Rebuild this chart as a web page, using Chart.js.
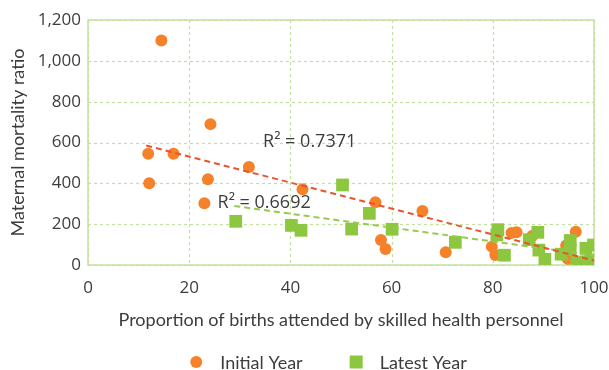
<!DOCTYPE html>
<html><head><meta charset="utf-8">
<script src="https://cdn.jsdelivr.net/npm/chart.js@4.4.1/dist/chart.umd.min.js"></script>
<style>html,body{margin:0;padding:0;background:#fff;}#wrap{width:609px;height:370px;}</style>
</head><body><div id="wrap"><canvas id="c" width="609" height="370"></canvas></div>
<script>
// ---- data ----
const seriesNames = ['Initial Year', 'Latest Year'];
const initialX = [14.5, 11.9, 16.9, 12.1, 24.2, 23.7, 23.0, 31.8, 42.4, 56.8, 57.9, 58.8, 66.1, 70.7, 79.8, 80.5, 83.7, 84.7, 87.8, 96.4, 94.5, 94.8];
const initialY = [1100, 545, 545, 400, 690, 420, 302, 480, 371, 307, 122, 78, 264, 62, 90, 49, 157, 160, 142, 163, 95, 30];
const latestX = [29.2, 40.2, 42.1, 50.3, 52.1, 55.6, 60.1, 72.6, 81.0, 80.8, 82.3, 87.2, 88.9, 89.1, 90.3, 93.5, 95.3, 95.3, 96.6, 98.4, 98.4, 99.4, 99.9];
const latestY = [214, 194, 170, 392, 176, 253, 175, 111, 173, 147, 48, 124, 160, 73, 28, 53, 120, 76, 12, 82, 16, 24, 98];
const trendInitialX = [11.5, 100];
const trendInitialY = [585, 22];
const trendLatestX = [28.9, 100];
const trendLatestY = [289, 47];
const r2Texts = ['R\u00B2 = 0.7371', 'R\u00B2 = 0.6692'];
const xTickValues = [0, 20, 40, 60, 80, 100];
const yTickValues = [0, 200, 400, 600, 800, 1000, 1200];
const xTitle = 'Proportion of births attended by skilled health personnel';
const yTitle = 'Maternal mortality ratio';

// ---- styling / layout ----
const ORANGE = '#F5822A';
const GREEN = '#8DC63F';
const RED = '#E9552C';
const GRID = '#C4DFA3';
const TEXT = '#3d3d3d';
const r2Anchors = [{x: 34.6, y: 576}, {x: 25.6, y: 278}]; // label anchors in data space

const pts = (xs, ys) => xs.map((x, i) => ({x, y: ys[i]}));

Chart.defaults.font.family = 'Lato, "Open Sans", sans-serif';
Chart.defaults.color = TEXT;

const framePlugin = {
  id: 'frame',
  beforeDatasetsDraw(chart) {
    const {ctx, chartArea: a, scales} = chart;
    ctx.save();
    ctx.strokeStyle = GRID;
    ctx.lineWidth = 1.2;
    ctx.setLineDash([3, 3]);
    scales.x.ticks.forEach(t => {
      const px = Math.round(scales.x.getPixelForValue(t.value)) + 0.5;
      ctx.beginPath(); ctx.moveTo(px, a.top); ctx.lineTo(px, a.bottom); ctx.stroke();
    });
    scales.y.ticks.forEach(t => {
      const py = Math.round(scales.y.getPixelForValue(t.value)) + 0.5;
      ctx.beginPath(); ctx.moveTo(a.left, py); ctx.lineTo(a.right, py); ctx.stroke();
    });
    ctx.setLineDash([]);
    ctx.strokeStyle = '#C6E0A2';
    ctx.lineWidth = 1.5;
    ctx.strokeRect(a.left, a.top, a.right - a.left, a.bottom - a.top);
    ctx.restore();
  },
  afterDatasetsDraw(chart) {
    const {ctx, scales} = chart;
    ctx.save();
    ctx.font = '18px "Open Sans"';
    ctx.fillStyle = TEXT;
    ctx.textBaseline = 'alphabetic';
    ctx.textAlign = 'left';
    r2Texts.forEach((t, i) => {
      ctx.fillText(t, scales.x.getPixelForValue(r2Anchors[i].x), scales.y.getPixelForValue(r2Anchors[i].y));
    });
    ctx.restore();
  },
  afterDraw(chart) {
    const {ctx, chartArea: a} = chart;
    ctx.save();
    ctx.font = '18px Lato';
    ctx.fillStyle = TEXT;
    ctx.textBaseline = 'middle';
    const w1 = ctx.measureText(seriesNames[0]).width;
    const w2 = ctx.measureText(seriesNames[1]).width;
    const total = 12 + 18 + w1 + 47 + 13 + 17 + w2;
    const cx = (a.left + a.right) / 2 - 12.5;
    let x = cx - total / 2;
    const y = 362;
    ctx.fillStyle = ORANGE;
    ctx.beginPath(); ctx.arc(x + 6, y, 6, 0, Math.PI * 2); ctx.fill();
    x += 12 + 18;
    ctx.fillStyle = TEXT;
    ctx.fillText(seriesNames[0], x, y + 1);
    x += w1 + 47;
    ctx.fillStyle = GREEN;
    ctx.fillRect(x, y - 6.5, 13, 13);
    x += 13 + 17;
    ctx.fillStyle = TEXT;
    ctx.fillText(seriesNames[1], x, y + 1);
    ctx.restore();
  }
};

new Chart(document.getElementById('c'), {
  type: 'scatter',
  data: {
    datasets: [
      {label: 'trend ' + seriesNames[0], data: pts(trendInitialX, trendInitialY), showLine: true, pointRadius: 0,
       borderColor: RED, borderWidth: 2, borderDash: [6, 4], order: 0},
      {label: 'trend ' + seriesNames[1], data: pts(trendLatestX, trendLatestY), showLine: true, pointRadius: 0,
       borderColor: '#95CB4E', borderWidth: 2, borderDash: [6, 4], order: 1},
      {label: seriesNames[1], data: pts(latestX, latestY), pointStyle: 'rect', pointRadius: 9, pointHoverRadius: 9,
       backgroundColor: GREEN, borderColor: GREEN, borderWidth: 0, order: 2},
      {label: seriesNames[0], data: pts(initialX, initialY), pointStyle: 'circle', pointRadius: 6, pointHoverRadius: 6,
       backgroundColor: ORANGE, borderColor: ORANGE, borderWidth: 0, order: 3}
    ]
  },
  options: {
    responsive: false,
    devicePixelRatio: 1,
    animation: false,
    events: [],
    layout: {padding: {top: 20, bottom: 39, left: 0, right: 0}},
    plugins: {legend: {display: false}, tooltip: {enabled: false}},
    scales: {
      x: {
        type: 'linear', min: 0, max: 100,
        afterBuildTicks: s => { s.ticks = xTickValues.map(v => ({value: v})); },
        afterFit: s => { s.height = 66; s.paddingRight = 15; s.paddingLeft = 0; },
        grid: {display: false, drawTicks: false},
        border: {display: false},
        ticks: {padding: 13, color: TEXT, font: {family: '"Open Sans"', size: 17}},
        title: {display: true, text: xTitle, color: TEXT, font: {family: 'Lato', size: 18}, padding: {top: 0, bottom: 0}}
      },
      y: {
        type: 'linear', min: 0, max: 1200,
        afterBuildTicks: s => { s.ticks = yTickValues.map(v => ({value: v})); },
        afterFit: s => { s.width = 88; s.paddingTop = 0; s.paddingBottom = 0; },
        grid: {display: false, drawTicks: false},
        border: {display: false},
        ticks: {padding: 7, color: TEXT, font: {family: '"Open Sans"', size: 17}},
        title: {display: true, text: yTitle, color: TEXT, font: {family: 'Lato', size: 18}, padding: {top: 7.5, bottom: 0}}
      }
    }
  },
  plugins: [framePlugin]
});
</script></body></html>
